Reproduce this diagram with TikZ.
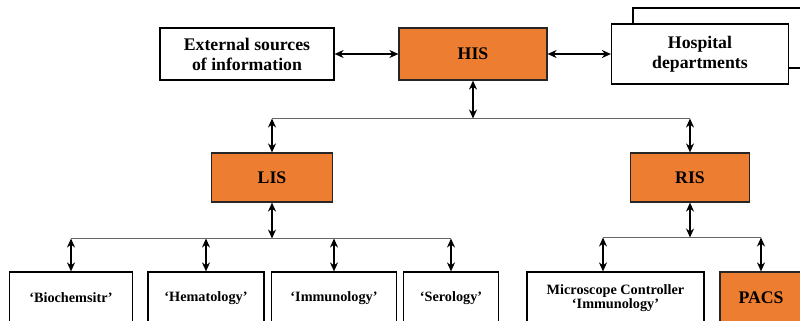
\documentclass[tikz,border=0pt]{standalone}
\usepackage{fontspec}
\setmainfont{Liberation Serif}
\usetikzlibrary{arrows.meta}
\definecolor{hisorange}{HTML}{ED7D31}

\begin{document}
\begin{tikzpicture}[
			x = 1bp, y = -1bp,
			every node/.style = {font = \bfseries\fontsize{17.8}{20}\selectfont, align = center, inner sep = 0pt},
			box/.style = {draw, line width = 1.2bp, fill = white},
			sys/.style = {box, fill = hisorange, draw = black!85},
			lab/.style = {box, font = \bfseries\fontsize{14.3}{14.5}\selectfont, minimum height = 52bp},
			dbl/.style = {line width = 2bp, {Stealth[length=9bp,width=8bp]}-{Stealth[length=9bp,width=8bp]}},
			bus/.style = {line width = 1bp, black!60}]

			\useasboundingbox (0,0) rectangle (800,320);
			\clip (0,0) rectangle (800,320);

			\node[box, minimum width=178bp, minimum height=60bp] (hospback) at (722,38) {};
			\node[box, minimum width=174bp, minimum height=52bp] (ext) at (247,54) {External sources\\of information};
			\node[sys, minimum width=148bp, minimum height=52bp] (his) at (473,54) {HIS};
			\node[box, minimum width=177bp, minimum height=60bp] (hosp) at (700,54) {Hospital\\departments};

			\draw[dbl] (ext) -- (his);
			\draw[dbl] (his) -- (hosp);

			\coordinate (hisbus) at (473,118.5);
			\node[sys, minimum width=121bp, minimum height=49bp] (lis) at (272,177.5) {LIS};
			\node[sys, minimum width=119bp, minimum height=49bp] (ris) at (690,177.5) {RIS};
			\draw[bus] (lis |- hisbus) -- (ris |- hisbus);
			\draw[dbl] (his) -- (hisbus);
			\draw[dbl] (lis |- hisbus) -- (lis);
			\draw[dbl] (ris |- hisbus) -- (ris);

			\coordinate (lisbus) at (272,238.5);
			\node[lab, minimum width=123bp] (bio) at (71,298) {`Biochemsitr'};
			\node[lab, minimum width=116bp] (hem) at (206,298) {`Hematology'};
			\node[lab, minimum width=125bp] (imm) at (334,298) {`Immunology'};
			\node[lab, minimum width=95bp] (ser) at (451,298) {`Serology'};
			\draw[bus] (bio |- lisbus) -- (ser |- lisbus);
			\draw[dbl] (lis) -- (lisbus);
			\foreach \n in {bio,hem,imm,ser}
				\draw[dbl] (\n |- lisbus) -- (\n);

			\coordinate (risbus) at (690,237.5);
			\coordinate (micarrow) at (603,237.5);
			\node[lab, minimum width=177bp] (mic) at (615.5,298) {Microscope Controller\\`Immunology'};
			\node[sys, minimum width=82bp, minimum height=52bp] (pacs) at (761,298) {PACS};
			\draw[bus] (micarrow) -- (pacs |- risbus);
			\draw[dbl] (ris) -- (risbus);
			\draw[dbl] (micarrow) -- (micarrow |- mic.north);
			\draw[dbl] (pacs |- risbus) -- (pacs);

		\end{tikzpicture}
\end{document}
